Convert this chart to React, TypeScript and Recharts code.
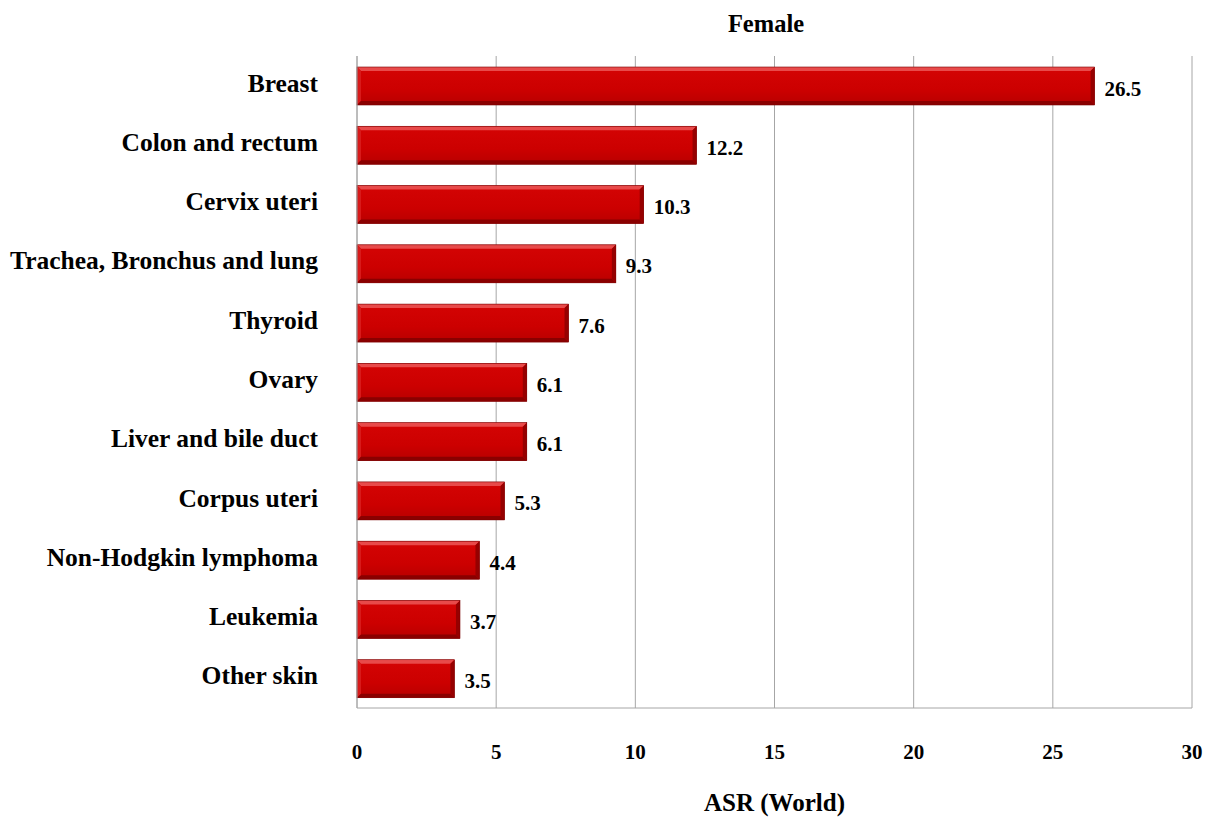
import React from 'react';
import { BarChart, Bar, XAxis, YAxis, CartesianGrid, LabelList, Label } from 'recharts';

const categories = [
  'Breast',
  'Colon and rectum',
  'Cervix uteri',
  'Trachea, Bronchus and lung',
  'Thyroid',
  'Ovary',
  'Liver and bile duct',
  'Corpus uteri',
  'Non-Hodgkin lymphoma',
  'Leukemia',
  'Other skin',
];
const asrValues = [26.5, 12.2, 10.3, 9.3, 7.6, 6.1, 6.1, 5.3, 4.4, 3.7, 3.5];
const xTicks = [0, 5, 10, 15, 20, 25, 30];

const data = categories.map((name, i) => ({ name, value: asrValues[i] }));

const FONT = '"Liberation Serif", "Times New Roman", serif';

// red bar with a bevelled edge, like the old office 3D style
const BevelBar = (props: any) => {
  const { x, y, width, height } = props;
  if (!width || width <= 0) return null;
  const b = 4;
  return (
    <g>
      <rect x={x} y={y} width={width} height={height} fill="url(#barFace)" />
      <polygon
        points={`${x},${y} ${x + width},${y} ${x + width - b},${y + b} ${x + b},${y + b}`}
        fill="#e84a4a"
      />
      <polygon
        points={`${x},${y} ${x + b},${y + b} ${x + b},${y + height - b} ${x},${y + height}`}
        fill="#d81a1a"
      />
      <polygon
        points={`${x},${y + height} ${x + width},${y + height} ${x + width - b},${y + height - b} ${x + b},${y + height - b}`}
        fill="#8a0000"
      />
      <polygon
        points={`${x + width},${y} ${x + width},${y + height} ${x + width - b},${y + height - b} ${x + width - b},${y + b}`}
        fill="#960000"
      />
      <rect x={x} y={y} width={width} height={height} fill="none" stroke="#7a0000" strokeWidth={0.6} />
    </g>
  );
};

const CategoryTick = (props: any) => {
  const { x, y, payload } = props;
  return (
    <text x={x} y={y} dy={6} textAnchor="end" fill="#000" fontSize={25.5} fontWeight="bold" fontFamily={FONT}>
      {payload.value}
    </text>
  );
};

const ValueLabel = (props: any) => {
  const { x, y, width, height, value } = props;
  return (
    <text
      x={Number(x) + Number(width) + 10}
      y={Number(y) + Number(height) / 2 + 9.5}
      textAnchor="start"
      fill="#000"
      fontSize={21}
      fontWeight="bold"
      fontFamily={FONT}
    >
      {Number(value).toFixed(1)}
    </text>
  );
};

export default function App() {
  return (
    <div style={{ position: 'absolute', left: 0, top: 0, width: 1211, height: 821, background: '#fff', fontFamily: FONT }}>
      <div
        style={{
          position: 'absolute',
          left: 666,
          top: 9,
          width: 200,
          textAlign: 'center',
          fontSize: 24.5,
          fontWeight: 'bold',
          color: '#000',
          lineHeight: '30px',
        }}
      >
        Female
      </div>
      <BarChart
        width={1211}
        height={821}
        data={data}
        layout="vertical"
        margin={{ top: 56, right: 19, bottom: 0, left: 0 }}
        barSize={38}
      >
        <defs>
          <linearGradient id="barFace" x1="0" y1="0" x2="0" y2="1">
            <stop offset="0%" stopColor="#d40404" />
            <stop offset="60%" stopColor="#cc0000" />
            <stop offset="100%" stopColor="#b80000" />
          </linearGradient>
        </defs>
        <CartesianGrid horizontal={false} stroke="#a6a6a6" />
        <XAxis
          type="number"
          domain={[0, 30]}
          ticks={xTicks}
          height={113}
          tickLine={false}
          axisLine={{ stroke: '#a6a6a6' }}
          tickMargin={30}
          tick={{ fill: '#000', fontSize: 21, fontWeight: 'bold', fontFamily: FONT }}
        >
          <Label
            value="ASR (World)"
            position="insideBottom"
            offset={10}
            style={{ fill: '#000', fontSize: 25, fontWeight: 'bold', fontFamily: FONT }}
          />
        </XAxis>
        <YAxis
          type="category"
          dataKey="name"
          width={357}
          tickLine={false}
          axisLine={{ stroke: '#a6a6a6' }}
          tickMargin={33}
          interval={0}
          tick={<CategoryTick />}
        />
        <Bar dataKey="value" isAnimationActive={false} shape={(p: any) => <BevelBar {...p} />}>
          <LabelList dataKey="value" content={<ValueLabel />} />
        </Bar>
      </BarChart>
    </div>
  );
}
